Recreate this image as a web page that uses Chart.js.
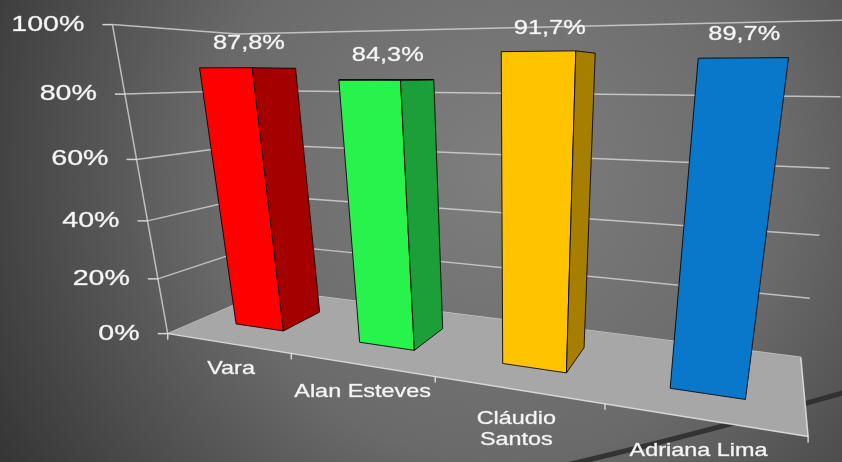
<!DOCTYPE html>
<html>
<head>
<meta charset="utf-8">
<title>Resultado</title>
<script src="https://cdn.jsdelivr.net/npm/chart.js@4.4.1/dist/chart.umd.min.js"></script>
<style>
  html, body { margin: 0; padding: 0; background: #3a3a3a; }
  canvas { display: block; }
</style>
</head>
<body>
<canvas id="chart" width="842" height="462"></canvas>
<script>
const categories = ['Vara', 'Alan Esteves', ['Cláudio', 'Santos'], 'Adriana Lima'];
const values = [87.8, 84.3, 91.7, 89.7];
const tickValues = [0, 20, 40, 60, 80, 100];

const frontColors = ['#ff0000', '#28f24c', '#ffc300', '#0a78ca'];
const sideColors = ['#a50000', '#1c9e38', '#a67e00', '#06559a'];

// where corners of the 3d box (X, Y, Z all 0..1) land in the picture
const frameAnchors = [
  [0, 0, 0, 168, 332], [0, 0.2, 0, 158, 278], [0, 0.4, 0, 147, 220],
  [0, 0.6, 0, 136.5, 159], [0, 0.8, 0, 125, 95], [0, 1, 0, 112, 25],
  [0.25, 0, 0, 292, 355], [0.5, 0, 0, 435, 378], [0.75, 0, 0, 605, 404], [1, 0, 0, 808, 436],
  [1, 0, 1, 800, 357], [1, 0.2, 1, 810, 298], [1, 0.4, 1, 820, 235],
  [1, 0.6, 1, 830, 168], [1, 0.8, 1, 840, 97],
  [0, 0, 1, 269, 291], [0, 1, 1, 238, 34]
];
const barDepth = [0.3, 0.7];
const stretch = 1.3;
const fontName = '"Liberation Sans", Arial, sans-serif';

const CX = 421, CY = 231, NORM = 421;

// least squares 3x4 projection (last entry fixed to 1)
function fitCamera(anchors) {
  const n = 11;
  const m = [];
  for (let i = 0; i < n; i++) m.push(new Array(n + 1).fill(0));
  function addRow(row, rhs) {
    for (let i = 0; i < n; i++) {
      for (let j = 0; j < n; j++) m[i][j] += row[i] * row[j];
      m[i][n] += row[i] * rhs;
    }
  }
  anchors.forEach(([X, Y, Z, px, py]) => {
    const u = (px - CX) / NORM, v = (py - CY) / NORM;
    addRow([X, Y, Z, 1, 0, 0, 0, 0, -u * X, -u * Y, -u * Z], u);
    addRow([0, 0, 0, 0, X, Y, Z, 1, -v * X, -v * Y, -v * Z], v);
  });
  for (let c = 0; c < n; c++) {
    let p = c;
    for (let r = c + 1; r < n; r++) if (Math.abs(m[r][c]) > Math.abs(m[p][c])) p = r;
    const tmp = m[c]; m[c] = m[p]; m[p] = tmp;
    for (let r = 0; r < n; r++) {
      if (r === c) continue;
      const f = m[r][c] / m[c][c];
      for (let k = c; k <= n; k++) m[r][k] -= f * m[c][k];
    }
  }
  const s = m.map((row, i) => row[n] / row[i]);
  return [s.slice(0, 4), s.slice(4, 8), [s[8], s[9], s[10], 1]];
}
const cam = fitCamera(frameAnchors);

function project(p) {
  const q = cam.map(r => r[0] * p[0] + r[1] * p[1] + r[2] * p[2] + r[3]);
  return [q[0] / q[2] * NORM + CX, q[1] / q[2] * NORM + CY];
}

function path(ctx, pts) {
  ctx.beginPath();
  pts.forEach((p, i) => {
    const s = project(p);
    if (i === 0) ctx.moveTo(s[0], s[1]); else ctx.lineTo(s[0], s[1]);
  });
}

function signedArea(pts) {
  const s = pts.map(project);
  let a = 0;
  for (let i = 0; i < s.length; i++) {
    const j = (i + 1) % s.length;
    a += s[i][0] * s[j][1] - s[j][0] * s[i][1];
  }
  return a;
}

function text(ctx, str, x, y, size, align) {
  ctx.save();
  ctx.font = size + 'px ' + fontName;
  ctx.fillStyle = '#f6f6f6';
  ctx.strokeStyle = 'rgba(246,246,246,0.6)';
  ctx.lineWidth = 0.5;
  ctx.textAlign = align;
  ctx.textBaseline = 'middle';
  ctx.translate(x, y);
  ctx.scale(stretch, 1);
  ctx.fillText(str, 0, 0);
  ctx.strokeText(str, 0, 0);
  ctx.restore();
}

const scene3d = {
  id: 'scene3d',
  beforeDraw(chart) {
    const ctx = chart.ctx;
    const g = ctx.createRadialGradient(500, 170, 0, 500, 170, 640);
    g.addColorStop(0, '#7e7e7e');
    g.addColorStop(0.45, '#6a6a6a');
    g.addColorStop(1, '#2a2a2a');
    ctx.save();
    ctx.fillStyle = g;
    ctx.fillRect(0, 0, chart.width, chart.height);
    // dark swoosh at the bottom right
    ctx.strokeStyle = 'rgba(45,45,45,0.9)';
    ctx.lineWidth = 5;
    ctx.beginPath();
    ctx.moveTo(545, 470);
    ctx.quadraticCurveTo(690, 437, 860, 388);
    ctx.stroke();
    ctx.restore();
  },
  beforeDatasetsDraw(chart) {
    const ctx = chart.ctx;
    const a = chart.chartArea;
    const nx = px => (px - a.left) / a.width;
    const ny = py => (a.bottom - py) / a.height;
    const yScale = chart.scales.y;
    const xScale = chart.scales.x;

    ctx.save();
    ctx.lineJoin = 'round';

    // wall grid lines
    ctx.strokeStyle = 'rgba(215,215,215,0.8)';
    ctx.lineWidth = 1.5;
    tickValues.forEach(t => {
      const y = ny(yScale.getPixelForValue(t));
      path(ctx, [[0, y, 0], [0, y, 1], [1, y, 1]]);
      ctx.stroke();
    });
    path(ctx, [[0, 0, 0], [0, 1, 0]]);
    ctx.stroke();

    // floor
    ctx.fillStyle = '#a7a7a7';
    path(ctx, [[0, 0, 0], [1, 0, 0], [1, 0, 1], [0, 0, 1]]);
    ctx.closePath();
    ctx.fill();
    ctx.strokeStyle = 'rgba(225,225,225,0.9)';
    path(ctx, [[0, 0, 0], [1, 0, 0], [1, 0, 1]]);
    ctx.stroke();

    // category tick marks under the front edge
    for (let i = 0; i <= categories.length; i++) {
      const s = project([i / categories.length, 0, 0]);
      ctx.beginPath();
      ctx.moveTo(s[0], s[1]);
      ctx.lineTo(s[0], s[1] + 6);
      ctx.stroke();
    }
    // value tick marks and labels
    tickValues.forEach(t => {
      const s = project([0, ny(yScale.getPixelForValue(t)), 0]);
      ctx.beginPath();
      ctx.moveTo(s[0] - 10, s[1]);
      ctx.lineTo(s[0], s[1]);
      ctx.stroke();
      text(ctx, t + '%', s[0] - 28, s[1], 22, 'right');
    });

    // bars
    const [z0, z1] = barDepth;
    chart.getDatasetMeta(0).data.forEach((bar, i) => {
      const x0 = nx(bar.x - bar.width / 2), x1 = nx(bar.x + bar.width / 2);
      const h = ny(bar.y);
      const faces = [
        [[[x0, 0, z0], [x1, 0, z0], [x1, h, z0], [x0, h, z0]], frontColors[i]],
        [[[x1, 0, z0], [x1, 0, z1], [x1, h, z1], [x1, h, z0]], sideColors[i]],
        [[[x0, 0, z1], [x0, 0, z0], [x0, h, z0], [x0, h, z1]], sideColors[i]],
        [[[x0, h, z0], [x1, h, z0], [x1, h, z1], [x0, h, z1]], frontColors[i]]
      ];
      const dir = Math.sign(signedArea(faces[0][0]));
      ctx.strokeStyle = 'rgba(0,0,0,0.85)';
      ctx.lineWidth = 1;
      faces.forEach(([pts, color]) => {
        if (Math.sign(signedArea(pts)) !== dir) return;
        path(ctx, pts);
        ctx.closePath();
        ctx.fillStyle = color;
        ctx.fill();
        ctx.stroke();
      });
      const top = project([(x0 + x1) / 2, h, (z0 + z1) / 2]);
      text(ctx, values[i].toFixed(1).replace('.', ',') + '%', top[0], top[1] - 24, 19.5, 'center');
    });

    // category labels
    categories.forEach((c, i) => {
      const s = project([nx(xScale.getPixelForValue(i)), -0.095, 0]);
      const lines = Array.isArray(c) ? c : [c];
      lines.forEach((line, k) => text(ctx, line, s[0], s[1] + k * 21, 18, 'center'));
    });

    ctx.restore();
    return false;
  }
};

new Chart(document.getElementById('chart'), {
  type: 'bar',
  data: {
    labels: categories,
    datasets: [{
      label: 'Resultado',
      data: values,
      backgroundColor: frontColors,
      categoryPercentage: 1,
      barPercentage: 0.4
    }]
  },
  options: {
    responsive: false,
    animation: false,
    layout: { padding: 0 },
    plugins: {
      legend: { display: false },
      tooltip: { enabled: false }
    },
    scales: {
      x: { display: false },
      y: { display: false, min: 0, max: 100 }
    }
  },
  plugins: [scene3d]
});
</script>
</body>
</html>
